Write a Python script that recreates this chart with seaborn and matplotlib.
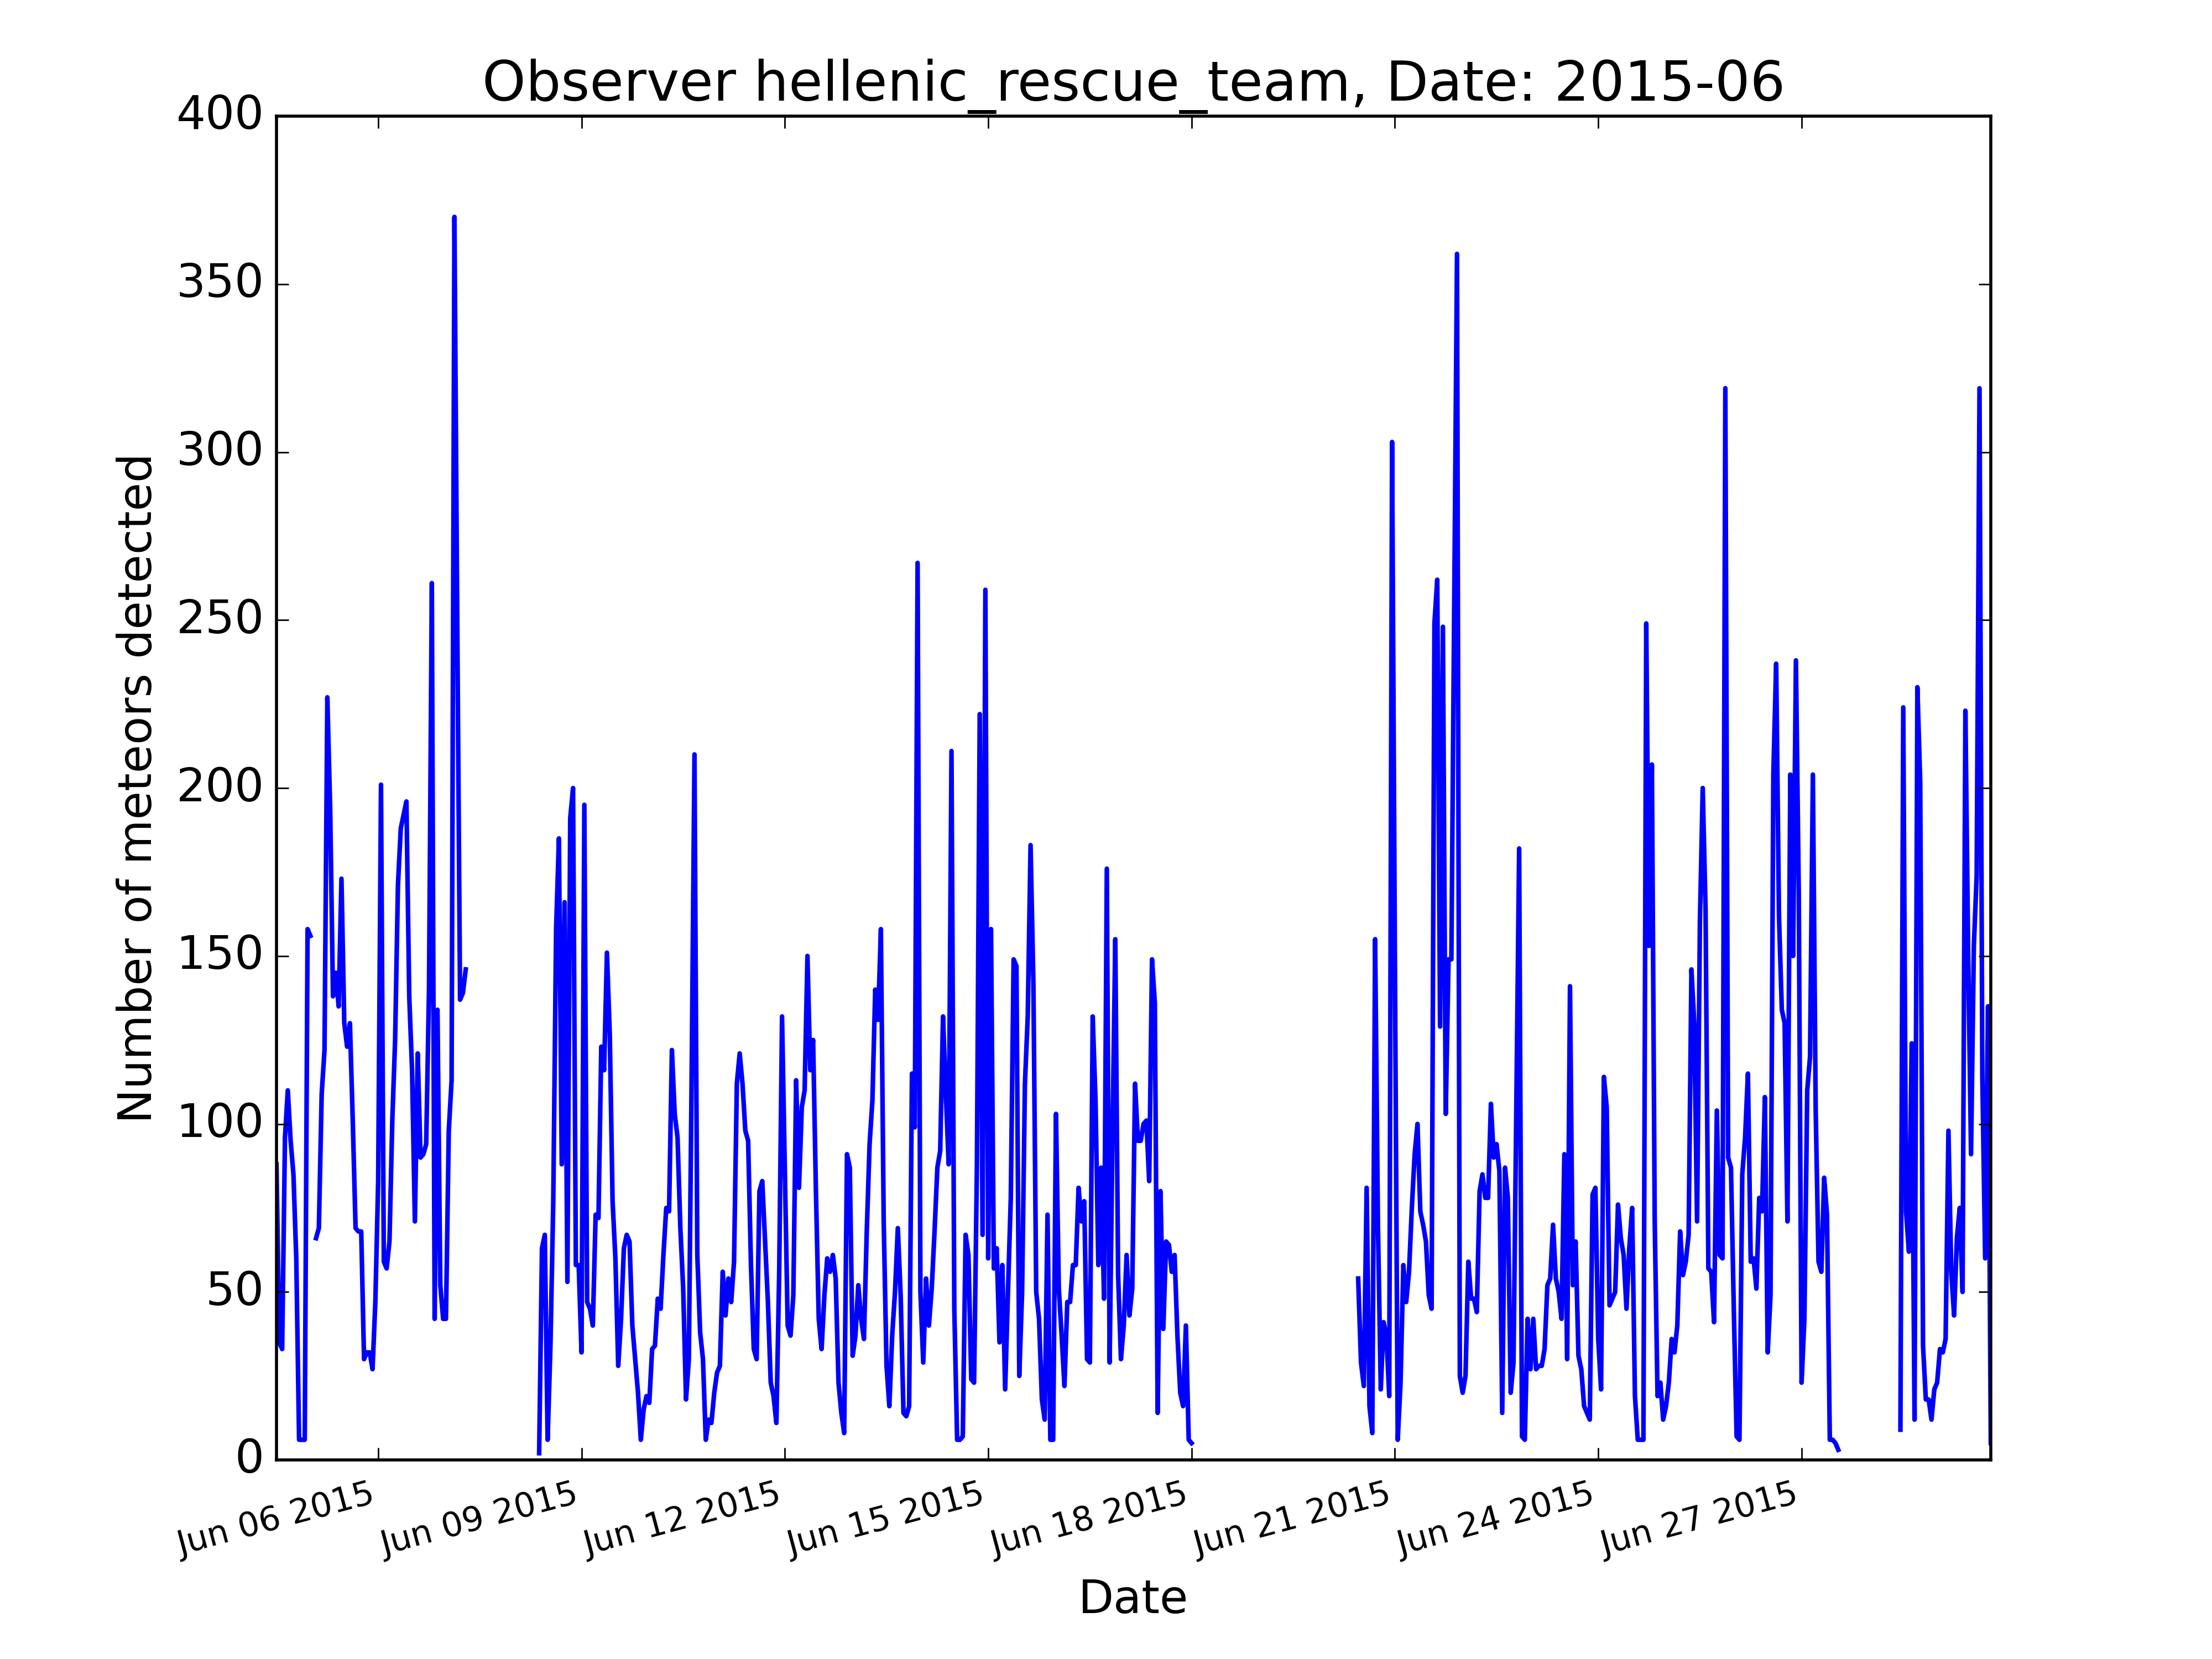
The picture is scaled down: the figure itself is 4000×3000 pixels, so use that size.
import pandas as pd
import matplotlib
matplotlib.use("Agg")
import matplotlib.pyplot as plt
import matplotlib.dates as mdates
import seaborn as sns

# hourly meteor counts, one list per uninterrupted run of observations
run1_start = "2015-06-04 12:00"
run1_counts = [88, 35, 33, 96, 110, 95, 85, 60, 6, 6, 6, 158, 156]

run2_start = "2015-06-05 02:00"
run2_counts = [66, 69, 109, 122, 227, 194, 138, 145, 135, 173,
               130, 123, 130, 101, 69, 68, 68, 30, 32, 32,
               27, 47, 83, 201, 59, 57, 65, 101, 125, 171,
               188, 192, 196, 138, 116, 71, 121, 90, 91, 94,
               140, 261, 42, 134, 52, 42, 42, 98, 113, 370,
               250, 137, 139, 146]

run3_start = "2015-06-08 09:00"
run3_counts = [2, 63, 67, 6, 34, 77, 158, 185, 88, 166,
               53, 191, 200, 58, 58, 32, 195, 47, 45, 40,
               73, 72, 123, 116, 151, 127, 77, 60, 28, 42,
               63, 67, 65, 40, 30, 20, 6, 15, 19, 17,
               33, 34, 48, 45, 61, 75, 74, 122, 103, 96,
               69, 51, 18, 30, 115, 210, 61, 38, 30, 6,
               12, 11, 20, 26, 28, 56, 43, 54, 47, 59,
               112, 121, 112, 98, 95, 58, 33, 30, 80, 83,
               65, 47, 23, 19, 11, 56, 132, 86, 40, 37,
               49, 113, 81, 105, 110, 150, 116, 125, 80, 42,
               33, 49, 60, 56, 61, 54, 23, 14, 8, 91,
               87, 31, 37, 52, 42, 36, 68, 94, 107, 140,
               131, 158, 71, 28, 16, 37, 50, 69, 49, 14,
               13, 16, 115, 99, 267, 50, 29, 54, 40, 51,
               68, 87, 92, 132, 109, 88, 211, 45, 6, 6,
               7, 67, 61, 24, 23, 87, 222, 67, 259, 60,
               158, 57, 63, 35, 58, 21, 50, 78, 149, 147,
               25, 50, 112, 132, 183, 142, 50, 42, 18, 12,
               73, 6, 6, 103, 51, 37, 22, 47, 47, 58,
               58, 81, 71, 77, 30, 29, 132, 107, 58, 87,
               48, 176, 29, 96, 155, 55, 30, 40, 61, 43,
               51, 112, 95, 95, 100, 101, 83, 149, 136, 14,
               80, 39, 65, 64, 56, 61, 37, 20, 16, 40,
               6, 5]

run4_start = "2015-06-20 11:00"
run4_counts = [54, 29, 22, 81, 16, 8, 155, 70, 21, 41,
               37, 19, 303, 150, 6, 23, 58, 47, 56, 75,
               91, 100, 74, 70, 65, 49, 45, 249, 262, 129,
               248, 103, 149, 149, 254, 359, 25, 20, 25, 59,
               48, 48, 44, 80, 85, 78, 78, 106, 90, 94,
               86, 14, 87, 78, 20, 29, 106, 182, 7, 6,
               42, 27, 42, 27, 28, 28, 33, 52, 54, 70,
               54, 50, 42, 91, 30, 141, 52, 65, 31, 27,
               16, 14, 12, 79, 81, 36, 21, 114, 105, 46,
               48, 50, 76, 66, 61, 45, 63, 75, 19, 6,
               6, 6, 249, 153, 207, 71, 19, 23, 12, 16,
               23, 36, 32, 40, 68, 55, 59, 67, 146, 130,
               71, 160, 200, 164, 57, 56, 41, 104, 61, 60,
               319, 90, 87, 45, 7, 6, 85, 96, 115, 59,
               60, 51, 78, 74, 108, 32, 49, 204, 237, 162,
               134, 130, 71, 204, 150, 238, 169, 23, 42, 110,
               120, 204, 104, 59, 56, 84, 73, 6, 6, 5,
               3]

run5_start = "2015-06-28 11:00"
run5_counts = [9, 224, 74, 62, 124, 12, 230, 202, 34, 18,
               18, 12, 21, 23, 33, 32, 36, 98, 56, 43,
               66, 75, 50, 223, 150, 91, 153, 174, 319, 114,
               60, 135, 5]

runs = [(run1_start, run1_counts), (run2_start, run2_counts),
        (run3_start, run3_counts), (run4_start, run4_counts),
        (run5_start, run5_counts)]

frames = []
for i, (start, counts) in enumerate(runs):
    times = pd.date_range(start, periods=len(counts), freq="h")
    frames.append(pd.DataFrame({"time": times, "count": counts, "run": i}))
df = pd.concat(frames, ignore_index=True)

plt.style.use("classic")
plt.rcParams["font.family"] = "DejaVu Sans"

fig, ax = plt.subplots(figsize=(10, 7.5), dpi=400, facecolor="white")
fig.subplots_adjust(left=0.125, right=0.9, bottom=0.12, top=0.93)

# units keeps the runs apart so the gaps in observation stay empty
sns.lineplot(data=df, x="time", y="count", units="run", estimator=None,
             color="b", linewidth=1.5, ax=ax)

ax.set_xlim(df["time"].min(), df["time"].max())
ax.set_ylim(0, 400)
ax.set_yticks(range(0, 401, 50))
ax.xaxis.set_major_locator(mdates.DayLocator(bymonthday=[3, 6, 9, 12, 15, 18, 21, 24, 27, 30]))
ax.xaxis.set_major_formatter(mdates.DateFormatter("%b %d %Y"))
ax.tick_params(axis="y", labelsize=15)
ax.tick_params(axis="x", labelsize=11, pad=6)
plt.setp(ax.get_xticklabels(), rotation=15, ha="right")

ax.set_title("Observer hellenic_rescue_team, Date: 2015-06", fontsize=18)
ax.set_xlabel("Date", fontsize=15)
ax.set_ylabel("Number of meteors detected", fontsize=15)

fig.savefig("out.png", dpi=400, facecolor="white")
